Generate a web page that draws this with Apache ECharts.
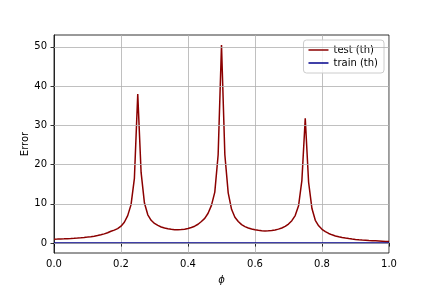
<!DOCTYPE html>
<html>
<head>
<meta charset="utf-8">
<script src="https://cdn.jsdelivr.net/npm/echarts@6/dist/echarts.min.js"></script>
<style>html,body{margin:0;padding:0;background:#fff}#c{width:432px;height:288px}</style>
</head>
<body>
<div id="c"></div>
<script>
var phi = [0.00,0.01,0.02,0.03,0.04,0.05,0.06,0.07,0.08,0.09,
  0.10,0.11,0.12,0.13,0.14,0.15,0.16,0.17,0.18,0.19,
  0.20,0.21,0.22,0.23,0.24,0.25,0.26,0.27,0.28,0.29,
  0.30,0.31,0.32,0.33,0.34,0.35,0.36,0.37,0.38,0.39,
  0.40,0.41,0.42,0.43,0.44,0.45,0.46,0.47,0.48,0.49,
  0.50,0.51,0.52,0.53,0.54,0.55,0.56,0.57,0.58,0.59,
  0.60,0.61,0.62,0.63,0.64,0.65,0.66,0.67,0.68,0.69,
  0.70,0.71,0.72,0.73,0.74,0.75,0.76,0.77,0.78,0.79,
  0.80,0.81,0.82,0.83,0.84,0.85,0.86,0.87,0.88,0.89,
  0.90,0.91,0.92,0.93,0.94,0.95,0.96,0.97,0.98,0.99,1.00];
var testErr = [1.00,1.02,1.05,1.08,1.12,1.16,1.21,1.27,1.34,1.42,
  1.52,1.63,1.76,1.92,2.11,2.35,2.64,3.00,3.30,3.70,
  4.30,5.30,7.00,9.80,16.5,38.0,18.0,10.2,7.20,5.80,
  5.00,4.50,4.10,3.85,3.65,3.50,3.42,3.40,3.45,3.55,
  3.72,3.97,4.30,4.80,5.50,6.30,7.60,9.60,13.0,22.5,
  50.5,22.5,12.8,8.60,6.60,5.50,4.70,4.20,3.85,3.60,
  3.40,3.25,3.15,3.10,3.12,3.20,3.35,3.55,3.85,4.25,
  4.85,5.70,7.00,9.50,16.0,31.8,15.5,8.80,5.80,4.40,
  3.50,2.90,2.45,2.10,1.82,1.60,1.42,1.27,1.14,1.03,
  0.94,0.86,0.79,0.73,0.67,0.62,0.57,0.52,0.47,0.42,0.38];
var trainErr = [0,0,0,0,0,0,0,0,0,0, 0,0,0,0,0,0,0,0,0,0,
  0,0,0,0,0,0,0,0,0,0, 0,0,0,0,0,0,0,0,0,0,
  0,0,0,0,0,0,0,0,0,0, 0,0,0,0,0,0,0,0,0,0,
  0,0,0,0,0,0,0,0,0,0, 0,0,0,0,0,0,0,0,0,0,
  0,0,0,0,0,0,0,0,0,0, 0,0,0,0,0,0,0,0,0,0,0];
var yTicks = [0,10,20,30,40,50];
var xTicks = [0.0,0.2,0.4,0.6,0.8,1.0];

function pairs(xs, ys){ return xs.map(function(x,i){ return [x, ys[i]]; }); }
var font = 'DejaVu Sans';
var chart = echarts.init(document.getElementById('c'), null, {renderer:'canvas'});
chart.setOption({
  animation:false,
  backgroundColor:'#ffffff',
  grid:{left:54, right:43, top:35, bottom:35, show:true, borderColor:'#000', borderWidth:0.8, backgroundColor:'transparent', containLabel:false, outerBoundsMode:'none'},
  xAxis:{type:'value', min:0, max:1, interval:0.2,
    name:'ϕ', nameLocation:'middle', nameGap:22, nameMoveOverlap:false,
    nameTextStyle:{fontFamily:font, fontSize:10, fontStyle:'italic', color:'#000'},
    axisLine:{lineStyle:{color:'#000', width:0.8}},
    axisTick:{show:true, length:3.5, lineStyle:{color:'#000', width:0.8}},
    axisLabel:{fontFamily:font, fontSize:10, color:'#000', margin:6, formatter:function(v){return v.toFixed(1);}},
    splitLine:{show:true, lineStyle:{color:'#b0b0b0', width:0.8}}
  },
  yAxis:{type:'value', min:-2.53, max:53.03,
    name:'Error', nameLocation:'middle', nameGap:24, nameRotate:90, nameMoveOverlap:false,
    nameTextStyle:{fontFamily:font, fontSize:10, color:'#000'},
    axisLine:{lineStyle:{color:'#000', width:0.8}},
    axisTick:{show:true, length:3.5, customValues:yTicks, lineStyle:{color:'#000', width:0.8}},
    axisLabel:{fontFamily:font, fontSize:10, color:'#000', margin:7, customValues:yTicks, formatter:function(v){return String(Math.round(v));}},
    splitLine:{show:false}
  },
  legend:{orient:'vertical', right:48, top:40, padding:[5,6,5,5], itemGap:3,
    itemWidth:20, itemHeight:10,
    backgroundColor:'rgba(255,255,255,0.8)', borderColor:'#cccccc', borderWidth:1, borderRadius:3,
    textStyle:{fontFamily:font, fontSize:10, color:'#000'},
    data:[{name:'test (th)', icon:'path://M0,0 L20,0 L20,1.5 L0,1.5 Z'},{name:'train (th)', icon:'path://M0,0 L20,0 L20,1.5 L0,1.5 Z'}]
  },
  series:[
    {name:'test (th)', type:'line', data:pairs(phi,testErr), showSymbol:false, symbol:'none',
     lineStyle:{color:'#8b0000', width:1.5}, itemStyle:{color:'#8b0000'}, z:3,
     markLine:{silent:true, symbol:'none', label:{show:false}, animation:false,
       lineStyle:{color:'#b0b0b0', width:0.8, type:'solid'},
       data:yTicks.map(function(t){return {yAxis:t};})}
    },
    {name:'train (th)', type:'line', data:pairs(phi,trainErr), showSymbol:false, symbol:'none',
     lineStyle:{color:'#00008b', width:1.5}, itemStyle:{color:'#00008b'}, z:4}
  ]
});
</script>
</body>
</html>
